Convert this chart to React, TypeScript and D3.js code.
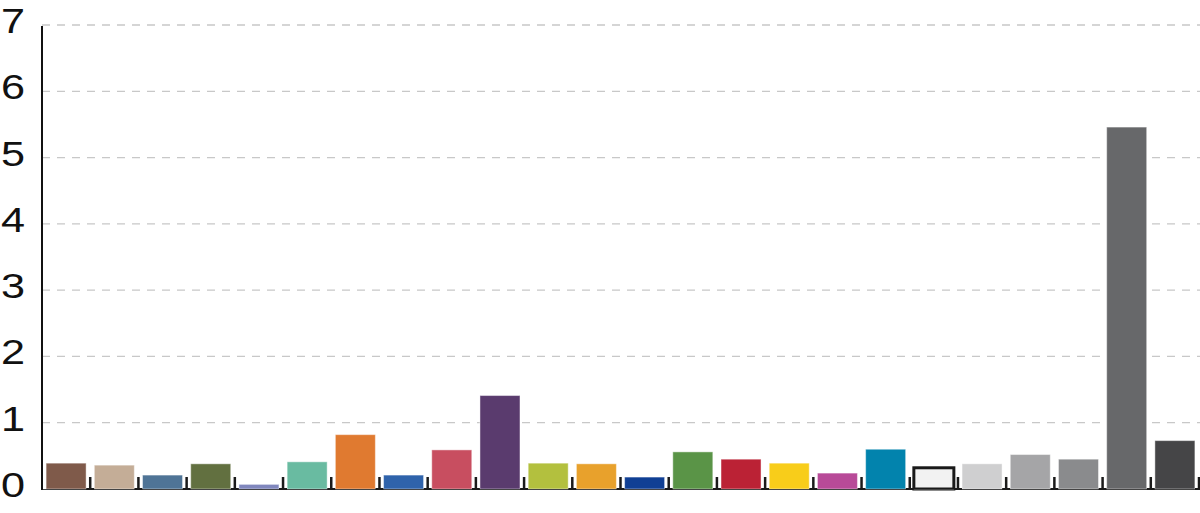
import React, { useEffect, useRef } from "react";
import * as d3 from "d3";

// one bar per category, left to right
const categories = [
  "c01", "c02", "c03", "c04", "c05", "c06", "c07", "c08",
  "c09", "c10", "c11", "c12", "c13", "c14", "c15", "c16",
  "c17", "c18", "c19", "c20", "c21", "c22", "c23", "c24",
];

const values = [
  0.39, 0.36, 0.21, 0.38, 0.07, 0.41, 0.82, 0.21,
  0.59, 1.41, 0.39, 0.38, 0.18, 0.56, 0.45, 0.39,
  0.24, 0.6, 0.32, 0.38, 0.52, 0.45, 5.46, 0.73,
];

const colors = [
  "#7f5a4a", "#c4ad97", "#4f7496", "#627040", "#8087bd", "#69bba1", "#e07a30", "#2f63ab",
  "#c84e60", "#5a3b6e", "#b3c03e", "#e8a12c", "#103f94", "#5a9447", "#bb2235", "#f8cd1a",
  "#b84a98", "#0283ad", "#f2f2f2", "#cfcfd0", "#a5a5a7", "#8a8b8d", "#67686a", "#454547",
];

const yTicks = [0, 1, 2, 3, 4, 5, 6, 7];

const WIDTH = 1200;
const HEIGHT = 513;

export default function App() {
  const svgRef = useRef<SVGSVGElement | null>(null);

  useEffect(() => {
    if (!svgRef.current) return;
    const svg = d3.select(svgRef.current);
    svg.selectAll("*").remove();

    const left = 42;
    const right = 1199;
    const top = 25;
    const bottom = 489;

    const y = d3.scaleLinear().domain([0, 7]).range([bottom, top]);
    const x = d3
      .scaleBand<string>()
      .domain(categories)
      .range([left, right])
      .paddingInner(0.17)
      .paddingOuter(0.085);
    const step = x.step();

    // dashed gridlines
    svg
      .append("g")
      .selectAll("line")
      .data(yTicks.filter((t) => t > 0))
      .enter()
      .append("line")
      .attr("x1", left)
      .attr("x2", WIDTH)
      .attr("y1", (d) => y(d))
      .attr("y2", (d) => y(d))
      .attr("stroke", "#c8c8c8")
      .attr("stroke-width", 1.3)
      .attr("stroke-dasharray", "8 7");

    // tick labels
    svg
      .append("g")
      .selectAll("text")
      .data(yTicks)
      .enter()
      .append("text")
      .attr("transform", (d) => `translate(1, ${y(d) + 8}) scale(1.2, 1)`)
      .attr("font-family", "'Liberation Sans', Arial, sans-serif")
      .attr("font-size", 36)
      .attr("fill", "#111")
      .text((d) => d);

    // bars
    svg
      .append("g")
      .selectAll("rect")
      .data(categories)
      .enter()
      .append("rect")
      .attr("x", (d) => x(d)!)
      .attr("width", x.bandwidth())
      .attr("y", (_, i) => y(values[i]))
      .attr("height", (_, i) => bottom - y(values[i]))
      .attr("fill", (_, i) => colors[i])
      .attr("stroke", (_, i) => (i === 18 ? "#1a1a1a" : "rgba(255,255,255,0.45)"))
      .attr("stroke-width", (_, i) => (i === 18 ? 3 : 1));

    // baseline
    svg
      .append("line")
      .attr("x1", left)
      .attr("x2", WIDTH)
      .attr("y1", bottom + 0.5)
      .attr("y2", bottom + 0.5)
      .attr("stroke", "#444")
      .attr("stroke-width", 1.2);

    // category boundary ticks
    const boundaries = categories.map((d) => x(d)! - x.paddingOuter() * step + step);
    const tickG = svg.append("g").attr("stroke", "#1a1a1a");
    tickG
      .selectAll(".tick-v")
      .data(boundaries)
      .enter()
      .append("line")
      .attr("x1", (d) => d)
      .attr("x2", (d) => d)
      .attr("y1", bottom - 12)
      .attr("y2", bottom)
      .attr("stroke-width", 2.5);
    tickG
      .selectAll(".tick-h")
      .data(boundaries)
      .enter()
      .append("line")
      .attr("x1", (d) => d - 4)
      .attr("x2", (d) => d + 4)
      .attr("y1", bottom)
      .attr("y2", bottom)
      .attr("stroke-width", 2);

    // y axis line
    svg
      .append("line")
      .attr("x1", left)
      .attr("x2", left)
      .attr("y1", top + 1)
      .attr("y2", bottom + 1)
      .attr("stroke", "#111")
      .attr("stroke-width", 2);
  }, []);

  return (
    <svg
      ref={svgRef}
      width={WIDTH}
      height={HEIGHT}
      style={{ position: "absolute", left: 0, top: 0, background: "#fff" }}
    />
  );
}
